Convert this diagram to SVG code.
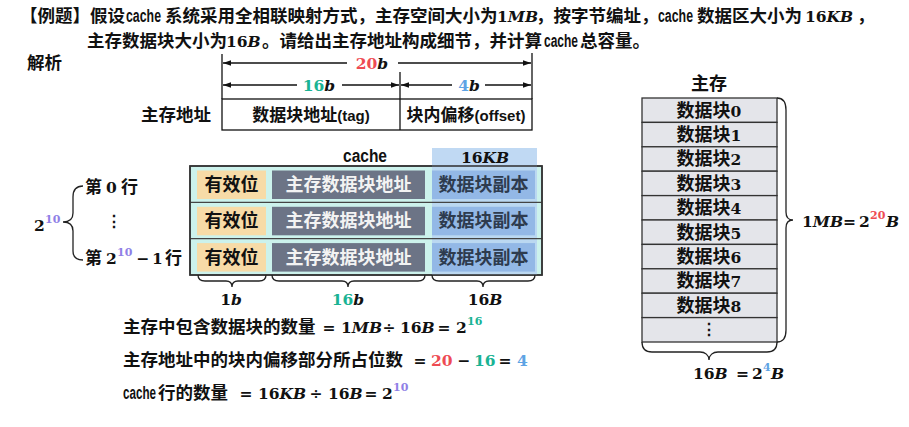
<svg xmlns="http://www.w3.org/2000/svg" width="909" height="427" viewBox="0 0 909 427">
<defs>
<style>
.cn{font-family:"Noto Sans CJK SC","Liberation Sans",sans-serif;font-weight:700;fill:#111}
.t{font-size:17.5px}
.lat{font-family:"Liberation Sans Narrow","Liberation Sans",sans-serif;font-weight:700;fill:#111}
.m{font-family:"DejaVu Serif","Liberation Serif",serif;font-weight:700;fill:#111;font-size:15.5px}
.i{font-style:italic}
.red{fill:#ee4b53}.grn{fill:#1ab394}.blu{fill:#5ea3e4}.pur{fill:#907fe6}
.sup{font-size:11px}
.ln{stroke:#111;stroke-width:1.3;fill:none}
.arr{stroke:#111;stroke-width:1.3;fill:none;marker-end:url(#ah)}
.br{stroke:#222;stroke-width:1.3;fill:none}
.mid{text-anchor:middle}
.yel{fill:#f7dba7}
.gry{fill:#6c7486}
.bcell{fill:#93b8e6}
.cellt{font-size:18px}
.mem{fill:#e4e5ea;stroke:#333;stroke-width:1.3}
</style>
<marker id="ah" viewBox="0 0 10 10" refX="10" refY="5" markerWidth="8" markerHeight="8" orient="auto" markerUnits="userSpaceOnUse"><path d="M0,1.5 L10,5 L0,8.5 z" fill="#111"/></marker>
</defs>
<rect width="909" height="427" fill="#fff"/>

<g id="title">
<text class="cn t" x="20" y="21.5">【例题】假设</text>
<text class="lat" x="126" y="21.5" font-size="17.5" textLength="35" lengthAdjust="spacingAndGlyphs">cache</text>
<text class="cn t" x="165" y="21.5">系统采用全相联映射方式，主存空间大小为</text>
<text class="m" x="497" y="21.5">1<tspan class="i">MB</tspan></text>
<text class="cn t" x="536" y="21.5">，按字节编址，</text>
<text class="lat" x="658" y="21.5" font-size="17.5" textLength="35" lengthAdjust="spacingAndGlyphs">cache</text>
<text class="cn t" x="697" y="21.5">数据区大小为</text>
<text class="m" x="805" y="21.5">16<tspan class="i">KB</tspan></text>
<text class="cn t" x="857" y="21.5">，</text>
<text class="cn t" x="87" y="46.5">主存数据块大小为</text>
<text class="m" x="226" y="46.5">16<tspan class="i">B</tspan></text>
<text class="cn t" x="262" y="46.5">。请给出主存地址构成细节，并计算</text>
<text class="lat" x="544" y="46.5" font-size="17.5" textLength="34" lengthAdjust="spacingAndGlyphs">cache</text>
<text class="cn t" x="580" y="46.5">总容量。</text>
<text class="cn t" x="27" y="69">解析</text>
</g>

<g id="address">
<text class="cn t" x="141" y="121">主存地址</text>
<rect x="222" y="99" width="310" height="31" fill="#fff" stroke="#111" stroke-width="1.3"/>
<line class="ln" x1="400" y1="72" x2="400" y2="130"/>
<line class="ln" x1="222" y1="54" x2="222" y2="99"/>
<line class="ln" x1="532" y1="53" x2="532" y2="99"/>
<text class="cn mid" x="311" y="121" font-size="17">数据块地址<tspan class="lat" font-size="15">(tag)</tspan></text>
<text class="cn mid" x="466" y="121" font-size="17">块内偏移<tspan class="lat" font-size="15">(offset)</tspan></text>
<text class="m mid" x="372" y="69" font-size="16"><tspan class="red">20</tspan><tspan class="i">b</tspan></text>
<text class="m mid" x="319" y="91" font-size="16"><tspan class="grn">16</tspan><tspan class="i">b</tspan></text>
<text class="m mid" x="469" y="91" font-size="16"><tspan class="blu">4</tspan><tspan class="i">b</tspan></text>
</g>

<g id="cache">
<text class="lat mid" x="365" y="162" font-size="18" textLength="44" lengthAdjust="spacingAndGlyphs">cache</text>
<rect x="190" y="166" width="352" height="109" fill="#ccf2ec" stroke="#333" stroke-width="1.5"/>
<rect x="432" y="148" width="105" height="127" fill="#b9d5f2" opacity="0.9"/>
<text class="m mid" x="485" y="163" font-size="16">16<tspan class="i">KB</tspan></text>
<line x1="190" y1="202.3" x2="542" y2="202.3" stroke="#444" stroke-width="1.3"/>
<line x1="190" y1="238.7" x2="542" y2="238.7" stroke="#444" stroke-width="1.3"/>
<rect x="190" y="166" width="352" height="109" fill="none" stroke="#333" stroke-width="1.5"/>
<g id="row0">
<rect class="yel" x="197" y="170.5" width="69" height="28.5"/>
<rect class="gry" x="272" y="170.5" width="153" height="28.5"/>
<rect class="bcell" x="432" y="170.5" width="103" height="28.5"/>
<text class="cn cellt mid" x="231.5" y="191">有效位</text>
<text class="cn cellt mid" x="348.5" y="191" style="fill:#f3f3f3">主存数据块地址</text>
<text class="cn cellt mid" x="483.5" y="191" style="fill:#2e3b4e">数据块副本</text>
</g>
<g id="row1">
<rect class="yel" x="197" y="206.8" width="69" height="28.5"/>
<rect class="gry" x="272" y="206.8" width="153" height="28.5"/>
<rect class="bcell" x="432" y="206.8" width="103" height="28.5"/>
<text class="cn cellt mid" x="231.5" y="227.3">有效位</text>
<text class="cn cellt mid" x="348.5" y="227.3" style="fill:#f3f3f3">主存数据块地址</text>
<text class="cn cellt mid" x="483.5" y="227.3" style="fill:#2e3b4e">数据块副本</text>
</g>
<g id="row2">
<rect class="yel" x="197" y="243.1" width="69" height="28.5"/>
<rect class="gry" x="272" y="243.1" width="153" height="28.5"/>
<rect class="bcell" x="432" y="243.1" width="103" height="28.5"/>
<text class="cn cellt mid" x="231.5" y="263.6">有效位</text>
<text class="cn cellt mid" x="348.5" y="263.6" style="fill:#f3f3f3">主存数据块地址</text>
<text class="cn cellt mid" x="483.5" y="263.6" style="fill:#2e3b4e">数据块副本</text>
</g>
<text class="m mid" x="231" y="305" font-size="16">1<tspan class="i">b</tspan></text>
<text class="m mid" x="348" y="305" font-size="16"><tspan class="grn">16</tspan><tspan class="i">b</tspan></text>
<text class="m mid" x="485" y="305" font-size="16">16<tspan class="i">B</tspan></text>
</g>

<g id="row-labels">
<text class="cn" x="85" y="193" font-size="17">第</text>
<text class="m" x="106" y="193">0</text>
<text class="cn" x="121" y="193" font-size="17">行</text>
<text class="m" x="106" y="227" font-size="15">⋮</text>
<text class="cn" x="85" y="264" font-size="17">第</text>
<text class="m" x="106" y="264">2</text>
<text class="m pur sup" x="117" y="256">10</text>
<text class="m mid" x="143" y="264">−</text>
<text class="m" x="152" y="264">1</text>
<text class="cn" x="165" y="264" font-size="17">行</text>
<text class="m" x="34" y="231" font-size="16">2</text>
<text class="m pur sup" x="45" y="223">10</text>
</g>

<g id="main-memory">
<text class="cn mid" x="709" y="90" font-size="18">主存</text>
<g id="blk0"><rect class="mem" x="642" y="98" width="135" height="24.4"/><text class="cn mid" x="709" y="116.5" font-size="18">数据块<tspan class="m" font-size="16">0</tspan></text></g>
<g id="blk1"><rect class="mem" x="642" y="122.4" width="135" height="24.4"/><text class="cn mid" x="709" y="140.9" font-size="18">数据块<tspan class="m" font-size="16">1</tspan></text></g>
<g id="blk2"><rect class="mem" x="642" y="146.8" width="135" height="24.4"/><text class="cn mid" x="709" y="165.3" font-size="18">数据块<tspan class="m" font-size="16">2</tspan></text></g>
<g id="blk3"><rect class="mem" x="642" y="171.2" width="135" height="24.4"/><text class="cn mid" x="709" y="189.7" font-size="18">数据块<tspan class="m" font-size="16">3</tspan></text></g>
<g id="blk4"><rect class="mem" x="642" y="195.6" width="135" height="24.4"/><text class="cn mid" x="709" y="214.1" font-size="18">数据块<tspan class="m" font-size="16">4</tspan></text></g>
<g id="blk5"><rect class="mem" x="642" y="220" width="135" height="24.4"/><text class="cn mid" x="709" y="238.5" font-size="18">数据块<tspan class="m" font-size="16">5</tspan></text></g>
<g id="blk6"><rect class="mem" x="642" y="244.4" width="135" height="24.4"/><text class="cn mid" x="709" y="262.9" font-size="18">数据块<tspan class="m" font-size="16">6</tspan></text></g>
<g id="blk7"><rect class="mem" x="642" y="268.8" width="135" height="24.4"/><text class="cn mid" x="709" y="287.3" font-size="18">数据块<tspan class="m" font-size="16">7</tspan></text></g>
<g id="blk8"><rect class="mem" x="642" y="293.2" width="135" height="24.4"/><text class="cn mid" x="709" y="311.7" font-size="18">数据块<tspan class="m" font-size="16">8</tspan></text></g>
<g id="blk-more"><rect class="mem" x="642" y="317.6" width="135" height="24.4"/><text class="m mid" x="709" y="335" font-size="14">⋮</text></g>
<text class="m" x="802" y="227">1<tspan class="i">MB</tspan></text>
<text class="m" x="843" y="227">=</text>
<text class="m" x="859" y="227">2</text>
<text class="m red sup" x="870" y="219">20</text>
<text class="m i" x="886" y="227">B</text>
<text class="m" x="693" y="379">16<tspan class="i">B</tspan></text>
<text class="m" x="736" y="379">=</text>
<text class="m" x="752" y="379">2</text>
<text class="m blu sup" x="763" y="371">4</text>
<text class="m i" x="771" y="379">B</text>
</g>

<g id="equations">
<text class="cn t" x="123" y="333">主存中包含数据块的数量</text>
<text class="m mid" x="329" y="333">=</text>
<text class="m" x="341" y="333">1<tspan class="i">MB</tspan></text>
<text class="m mid" x="389" y="333">÷</text>
<text class="m" x="400" y="333">16<tspan class="i">B</tspan></text>
<text class="m mid" x="444" y="333">=</text>
<text class="m" x="456" y="333">2</text>
<text class="m grn sup" x="467" y="325">16</text>
<text class="cn t" x="123" y="366">主存地址中的块内偏移部分所占位数</text>
<text class="m mid" x="420" y="366">=</text>
<text class="m red" x="431" y="366">20</text>
<text class="m mid" x="464" y="366">−</text>
<text class="m grn" x="474" y="366">16</text>
<text class="m mid" x="505" y="366">=</text>
<text class="m blu" x="517" y="366">4</text>
<text class="lat" x="123" y="399" font-size="17.5" textLength="33" lengthAdjust="spacingAndGlyphs">cache</text>
<text class="cn t" x="158" y="399">行的数量</text>
<text class="m mid" x="246" y="399">=</text>
<text class="m" x="258" y="399">16<tspan class="i">KB</tspan></text>
<text class="m mid" x="316" y="399">÷</text>
<text class="m" x="328" y="399">16<tspan class="i">B</tspan></text>
<text class="m mid" x="371" y="399">=</text>
<text class="m" x="382" y="399">2</text>
<text class="m pur sup" x="393" y="391">10</text>
</g>

<g id="connectors">
<line class="arr" x1="347" y1="63" x2="223" y2="63"/>
<line class="arr" x1="398" y1="63" x2="531" y2="63"/>
<line class="arr" x1="297" y1="85" x2="223" y2="85"/>
<line class="arr" x1="342" y1="85" x2="399" y2="85"/>
<line class="arr" x1="452" y1="85" x2="401" y2="85"/>
<line class="arr" x1="485" y1="85" x2="531" y2="85"/>
<path class="br" d="M83,186 C76,186 73,190 73,197 L73,213 C73,219 69,222 63,222 C69,222 73,225 73,231 L73,251 C73,257 76,260 83,260"/>
<path class="br" d="M198,275 C198,279 200,281 205,281 L226,281 C230,281 232,283 232,287 C232,283 234,281 238,281 L259,281 C264,281 266,279 266,275"/>
<path class="br" d="M272,275 C272,279 274,281 279,281 L342,281 C346,281 348,283 348,287 C348,283 350,281 354,281 L418,281 C423,281 425,279 425,275"/>
<path class="br" d="M432,275 C432,279 434,281 439,281 L477,281 C481,281 483,283 483,287 C483,283 485,281 489,281 L528,281 C533,281 535,279 535,275"/>
<path class="br" d="M777,98 C783,98 786,102 786,110 L786,212 C786,217 788,220 793,220 C788,220 786,223 786,228 L786,330 C786,338 783,342 777,342"/>
<path class="br" d="M642,342 C642,349 645,352 652,352 L700,352 C705,352 709,355 709,360 C709,355 713,352 718,352 L767,352 C774,352 777,349 777,342"/>
</g>
</svg>
